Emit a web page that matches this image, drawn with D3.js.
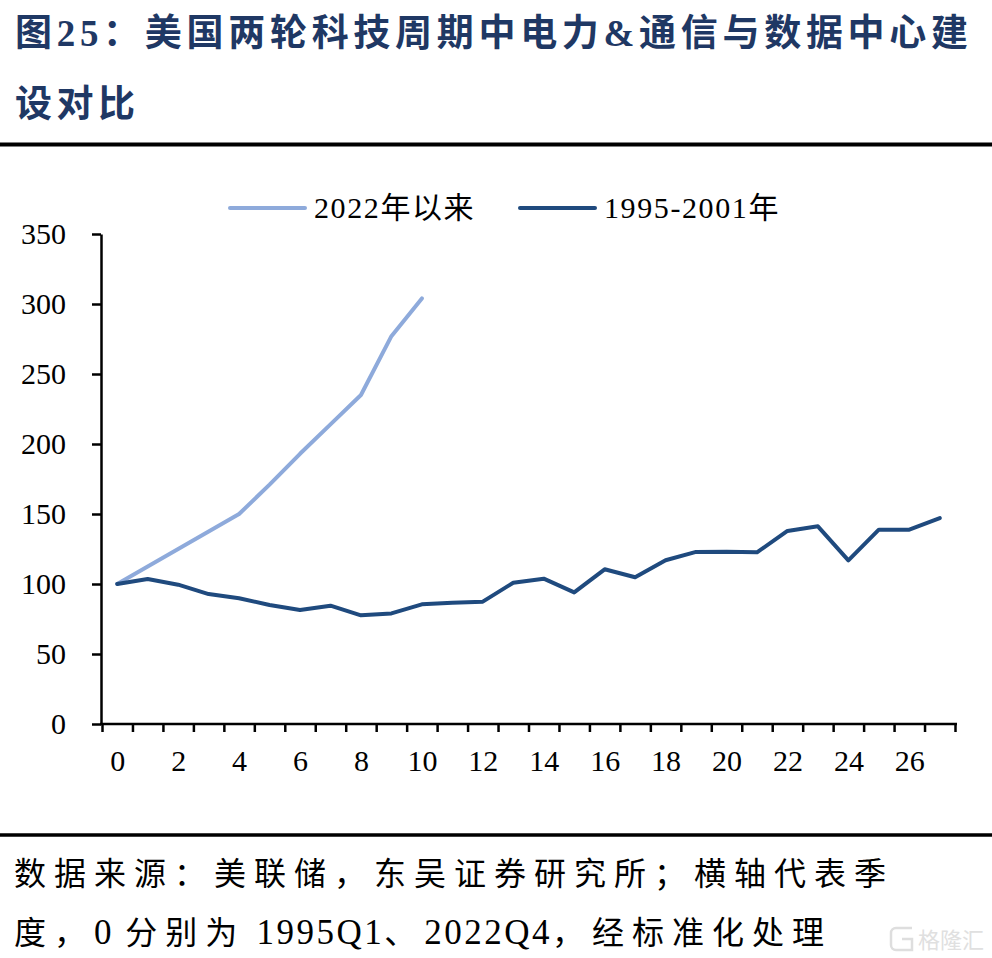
<!DOCTYPE html>
<html>
<head>
<meta charset="utf-8">
<script src="https://cdn.jsdelivr.net/npm/d3@7/dist/d3.min.js"></script>
<style>
  html, body { margin: 0; padding: 0; background: #fff; }
  svg { display: block; }
</style>
</head>
<body>
<svg id="chart" width="992" height="958"></svg>
<script>
// ---- data ----
const quarters = d3.range(0, 28);
const xTickLabels = [0, 2, 4, 6, 8, 10, 12, 14, 16, 18, 20, 22, 24, 26];
const yTickLabels = [0, 50, 100, 150, 200, 250, 300, 350];
const seriesNames = ["2022年以来", "1995-2001年"];
const since2022 = [100, 112.5, 125, 137.5, 150, 171, 193, 214, 235, 277, 304];
const y1995_2001 = [100, 103.6, 99.5, 92.8, 89.8, 85, 81.4, 84.5, 77.6, 79, 85.5, 86.6, 87.4, 100.9,
                    103.8, 94, 110.5, 104.8, 117, 122.9, 123.1, 122.6, 137.9, 141.2, 116.9, 138.8, 138.8, 147.1];
const titleLines = ["图25：美国两轮科技周期中电力&通信与数据中心建", "设对比"];
const footLines = ["数据来源：美联储，东吴证券研究所；横轴代表季", "度，0 分别为 1995Q1、2022Q4，经标准化处理"];

const colors = ["#8eaadb", "#1f4a7e"];
const serif = "'Liberation Serif', 'Times New Roman', 'Noto Sans CJK SC', serif";

const svg = d3.select("#chart");

// ---- title ----
const title = svg.append("g").attr("fill", "#1f3864").attr("font-family", serif)
  .attr("font-weight", "bold").attr("font-size", 37);
title.append("text").attr("x", 15).attr("y", 46).attr("textLength", 953)
  .attr("lengthAdjust", "spacing").text(titleLines[0]);
title.append("text").attr("x", 15).attr("y", 117).attr("letter-spacing", 4.5).text(titleLines[1]);

svg.append("line").attr("x1", 0).attr("x2", 992).attr("y1", 144.5).attr("y2", 144.5)
  .attr("stroke", "#000").attr("stroke-width", 4);

// ---- scales ----
const x = d3.scaleLinear().domain([-0.5, 27.5]).range([102, 955]);
const y = d3.scaleLinear().domain([0, 350]).range([724, 234]);

// ---- axes ----
const yAxis = svg.append("g").attr("transform", "translate(101,0)")
  .call(d3.axisLeft(y).tickValues(yTickLabels).tickSize(9).tickSizeOuter(0).tickPadding(26));
yAxis.select(".domain").attr("stroke-width", 2.5);
yAxis.selectAll(".tick line").attr("stroke-width", 2.5);
yAxis.selectAll(".tick text").attr("font-family", serif).attr("font-size", 30).attr("fill", "#000");

const xAxis = svg.append("g").attr("transform", "translate(0,724)")
  .call(d3.axisBottom(x).tickValues(d3.range(-0.5, 28, 1)).tickSize(8).tickSizeOuter(0).tickFormat(""));
xAxis.select(".domain").attr("stroke-width", 2.5).attr("d", "M100,0H957");
xAxis.selectAll(".tick line").attr("stroke-width", 2.5);

const xLab = svg.append("g").attr("transform", "translate(0,724)")
  .call(d3.axisBottom(x).tickValues(xTickLabels).tickSize(0).tickPadding(26));
xLab.select(".domain").remove();
xLab.selectAll(".tick text").attr("font-family", serif).attr("font-size", 30).attr("fill", "#000");

// ---- lines ----
const line = d3.line().x((d, i) => x(i)).y(d => y(d));
svg.append("path").datum(since2022).attr("d", line).attr("fill", "none")
  .attr("stroke", colors[0]).attr("stroke-width", 4).attr("stroke-linejoin", "round").attr("stroke-linecap", "round");
svg.append("path").datum(y1995_2001).attr("d", line).attr("fill", "none")
  .attr("stroke", colors[1]).attr("stroke-width", 4).attr("stroke-linejoin", "round").attr("stroke-linecap", "round");

// ---- legend ----
const legendPos = [230, 520];
seriesNames.forEach((name, i) => {
  const g = svg.append("g").attr("transform", `translate(${legendPos[i]},208)`);
  g.append("line").attr("x1", 0).attr("x2", 75).attr("stroke", colors[i]).attr("stroke-width", 4)
    .attr("stroke-linecap", "round");
  g.append("text").attr("x", 84).attr("y", 10).attr("font-family", serif).attr("font-size", 30)
    .attr("letter-spacing", 1.6).attr("fill", "#000").text(name);
});

// ---- footer ----
svg.append("line").attr("x1", 0).attr("x2", 992).attr("y1", 835).attr("y2", 835)
  .attr("stroke", "#000").attr("stroke-width", 3.5);
const foot = svg.append("g").attr("font-family", serif).attr("font-size", 32).attr("fill", "#000");
const runRe = /[\u3000-\u9fff\uff00-\uffef]+|[^\u3000-\u9fff\uff00-\uffef]+/g;
footLines.forEach((txt, li) => {
  const t = foot.append("text").attr("x", 14).attr("y", li === 0 ? 885 : 944)
    .attr("xml:space", "preserve");
  txt.match(runRe).forEach(run => {
    const cjk = /[\u3000-\u9fff\uff00-\uffef]/.test(run);
    t.append("tspan").attr("letter-spacing", cjk ? 8 : 2.5)
      .attr("font-size", cjk ? 32 : 35).text(run);
  });
});

// watermark
const wm = svg.append("g").attr("fill", "none").attr("stroke", "#dedede").attr("stroke-width", 2.5);
wm.append("path").attr("d", "M912,928 H896 a5,5 0 0 0 -5,5 V945 a5,5 0 0 0 5,5 H912 V939 H902");
svg.append("text").attr("x", 918).attr("y", 948)
  .attr("font-family", "'Noto Sans CJK SC', sans-serif").attr("font-size", 22)
  .attr("fill", "#e0e0e0").text("格隆汇");
</script>
</body>
</html>
